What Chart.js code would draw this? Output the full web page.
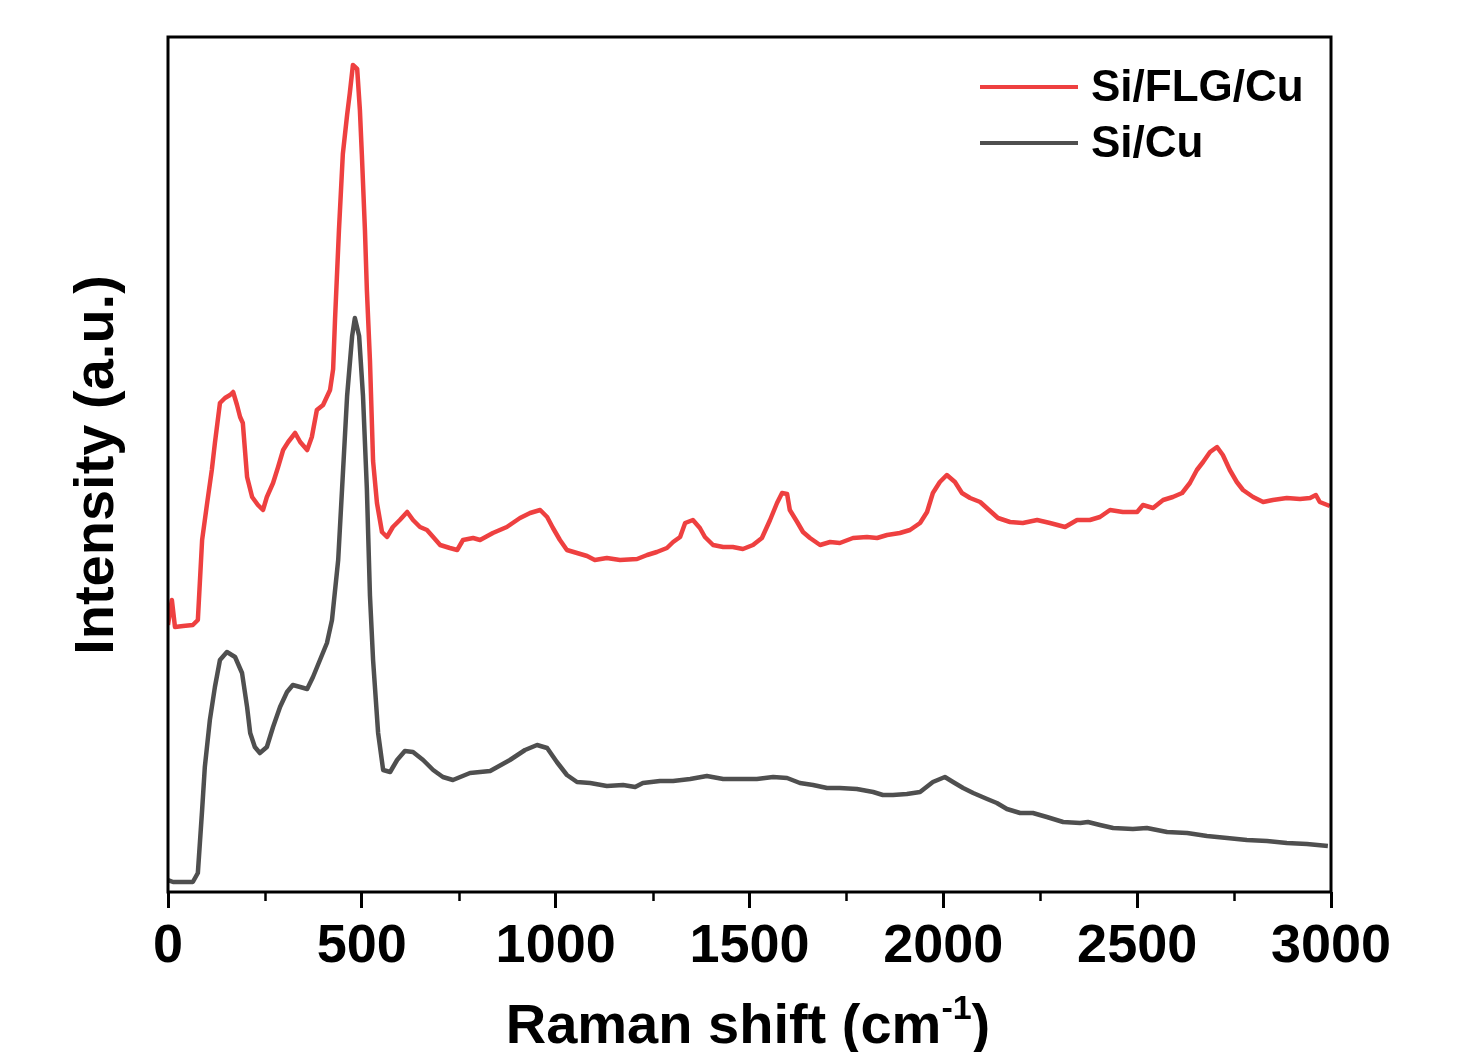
<!DOCTYPE html>
<html>
<head>
<meta charset="utf-8">
<script src="https://cdn.jsdelivr.net/npm/chart.js@4/dist/chart.umd.min.js"></script>
<style>
  html, body { margin: 0; padding: 0; background: #ffffff; }
  canvas { display: block; }
</style>
</head>
<body>
<canvas id="c" width="1464" height="1052"></canvas>
<script>
// ---- Data (intensity in arbitrary units) ----
const seriesNames = ["Si/FLG/Cu", "Si/Cu"];
const seriesColors = ["#EE4040", "#4F4F4F"];

const xFLG = [0,10,18,39,64,77,88,101,113,121,134,147,160,168,178,186,193,204,217,232,245,255,271,284,297,310,328,341,359,371,384,400,418,426,431,441,451,462,469,477,488,495,500,508,513,521,529,539,552,565,580,598,617,632,650,668,684,702,727,746,761,787,805,838,874,908,934,960,978,993,1011,1029,1055,1081,1101,1132,1166,1210,1236,1261,1287,1303,1321,1334,1354,1372,1385,1406,1432,1457,1483,1509,1532,1553,1571,1584,1597,1604,1623,1638,1656,1682,1708,1733,1767,1803,1829,1855,1888,1914,1940,1958,1973,1991,2009,2030,2048,2069,2095,2115,2141,2172,2205,2242,2275,2314,2345,2378,2404,2430,2463,2500,2515,2541,2567,2592,2616,2636,2654,2670,2688,2706,2721,2739,2757,2773,2799,2825,2850,2886,2920,2946,2961,2971,2997];
const yFLG = [267,292,265,266,267,272,352,389,422,449,489,494,497,500,487,475,469,415,395,387,382,395,409,425,442,450,459,450,442,455,482,487,502,523,574,662,738,777,799,827,823,782,738,662,602,531,431,389,360,355,365,372,380,372,365,362,355,347,344,342,352,354,352,359,365,374,379,382,375,364,352,342,339,336,332,334,332,333,337,340,344,350,355,369,372,364,355,347,345,345,343,347,354,372,389,399,398,382,370,360,354,347,350,349,354,355,354,357,359,362,369,380,399,410,417,410,399,394,390,383,374,370,369,372,369,365,372,372,375,382,380,380,387,384,392,395,399,409,422,430,440,445,437,422,410,402,395,390,392,394,393,394,397,390,386];

const xCu = [0,13,64,77,88,95,108,121,134,152,173,191,204,212,224,237,255,271,289,307,322,341,359,374,392,410,423,439,449,462,475,482,493,503,513,521,529,542,555,573,591,611,632,658,684,709,735,779,831,882,921,952,978,1003,1029,1055,1089,1132,1174,1205,1225,1269,1303,1347,1390,1432,1476,1519,1561,1597,1630,1664,1700,1733,1777,1819,1844,1870,1906,1940,1973,2004,2025,2051,2077,2113,2138,2164,2198,2231,2267,2309,2353,2373,2404,2438,2489,2525,2577,2629,2680,2732,2783,2835,2886,2938,2992];
const yCu = [12,10,10,19,82,125,172,205,232,240,235,219,185,159,145,139,145,165,185,200,207,205,203,215,232,249,272,332,403,496,556,574,556,496,403,296,232,159,122,120,132,141,140,132,122,115,112,119,121,132,142,147,144,130,117,110,109,106,107,105,109,111,111,113,116,113,113,113,115,114,109,107,104,104,103,100,97,97,98,100,110,115,110,104,99,93,89,83,79,79,75,70,69,70,67,64,63,64,60,59,56,54,52,51,49,48,46];

const xMin = 0, xMax = 3000, xMajorStep = 500, xMinorStep = 250;
const yMin = 0, yMax = 855;
const xTitleMain = "Raman shift (cm";
const xTitleSup = "-1";
const xTitleEnd = ")";
const yTitle = "Intensity (a.u.)";

// ---- Layout ----
const FONT = '"Liberation Sans", Arial, Helvetica, sans-serif';
const AREA = { left: 168, top: 37, right: 1331, bottom: 892 };

function toPoints(xs, ys) { return xs.map((x, i) => ({ x: x, y: ys[i] })); }

const framePlugin = {
  id: 'frame',
  afterDraw(chart) {
    const ctx = chart.ctx;
    const a = chart.chartArea;
    const xs = chart.scales.x;
    ctx.save();
    // plot frame
    ctx.strokeStyle = '#000';
    ctx.lineWidth = 3;
    ctx.strokeRect(a.left, a.top, a.right - a.left, a.bottom - a.top);
    // minor ticks
    ctx.lineWidth = 2.5;
    for (let v = xMin + xMinorStep; v < xMax; v += xMajorStep) {
      const px = Math.round(xs.getPixelForValue(v)) + 0.5;
      ctx.beginPath();
      ctx.moveTo(px, a.bottom);
      ctx.lineTo(px, a.bottom + 9);
      ctx.stroke();
    }
    // x title with superscript
    ctx.fillStyle = '#000';
    ctx.textBaseline = 'alphabetic';
    ctx.textAlign = 'left';
    const fMain = 'bold 56px ' + FONT;
    const fSup = 'bold 34px ' + FONT;
    ctx.font = fMain;
    const w1 = ctx.measureText(xTitleMain).width;
    const w3 = ctx.measureText(xTitleEnd).width;
    ctx.font = fSup;
    const w2 = ctx.measureText(xTitleSup).width;
    const total = w1 + w2 + w3;
    let x0 = 748 - total / 2;
    const base = 1043;
    ctx.font = fMain;
    ctx.fillText(xTitleMain, x0, base);
    ctx.font = fSup;
    ctx.fillText(xTitleSup, x0 + w1, base - 24);
    ctx.font = fMain;
    ctx.fillText(xTitleEnd, x0 + w1 + w2, base);
    // y title
    ctx.save();
    ctx.translate(113, 465);
    ctx.rotate(-Math.PI / 2);
    ctx.textAlign = 'center';
    ctx.font = 'bold 56px ' + FONT;
    ctx.fillText(yTitle, 0, 0);
    ctx.restore();
    // legend
    const rows = [87, 143];
    ctx.font = 'bold 44px ' + FONT;
    ctx.textBaseline = 'middle';
    ctx.textAlign = 'left';
    chart.data.datasets.forEach((ds, i) => {
      ctx.strokeStyle = ds.borderColor;
      ctx.lineWidth = 4;
      ctx.beginPath();
      ctx.moveTo(980, rows[i]);
      ctx.lineTo(1078, rows[i]);
      ctx.stroke();
      ctx.fillStyle = '#000';
      ctx.fillText(ds.label, 1091, rows[i] + 2);
    });
    ctx.restore();
  }
};

new Chart(document.getElementById('c'), {
  type: 'line',
  data: {
    datasets: [
      { label: seriesNames[0], data: toPoints(xFLG, yFLG), borderColor: seriesColors[0], backgroundColor: seriesColors[0],
        borderWidth: 4.5, pointRadius: 0, tension: 0, fill: false, borderJoinStyle: 'round' },
      { label: seriesNames[1], data: toPoints(xCu, yCu), borderColor: seriesColors[1], backgroundColor: seriesColors[1],
        borderWidth: 4.5, pointRadius: 0, tension: 0, fill: false, borderJoinStyle: 'round' }
    ]
  },
  options: {
    responsive: false,
    animation: false,
    events: [],
    layout: { padding: { left: 0, top: AREA.top, right: 1464 - AREA.right, bottom: 0 } },
    plugins: { legend: { display: false }, tooltip: { enabled: false }, title: { display: false } },
    scales: {
      x: {
        type: 'linear', min: xMin, max: xMax,
        afterFit(s) { s.height = 1052 - AREA.bottom; },
        border: { display: false },
        grid: { drawOnChartArea: false, drawTicks: true, tickLength: 16, tickWidth: 3, tickColor: '#000' },
        ticks: { stepSize: xMajorStep, color: '#000', padding: 7, maxRotation: 0,
                 callback: (v) => String(v),
                 font: { family: FONT, size: 54, weight: 'bold' } }
      },
      y: {
        type: 'linear', min: yMin, max: yMax,
        afterFit(s) { s.width = AREA.left; },
        border: { display: false },
        grid: { display: false },
        ticks: { display: false }
      }
    }
  },
  plugins: [framePlugin]
});
</script>
</body>
</html>
